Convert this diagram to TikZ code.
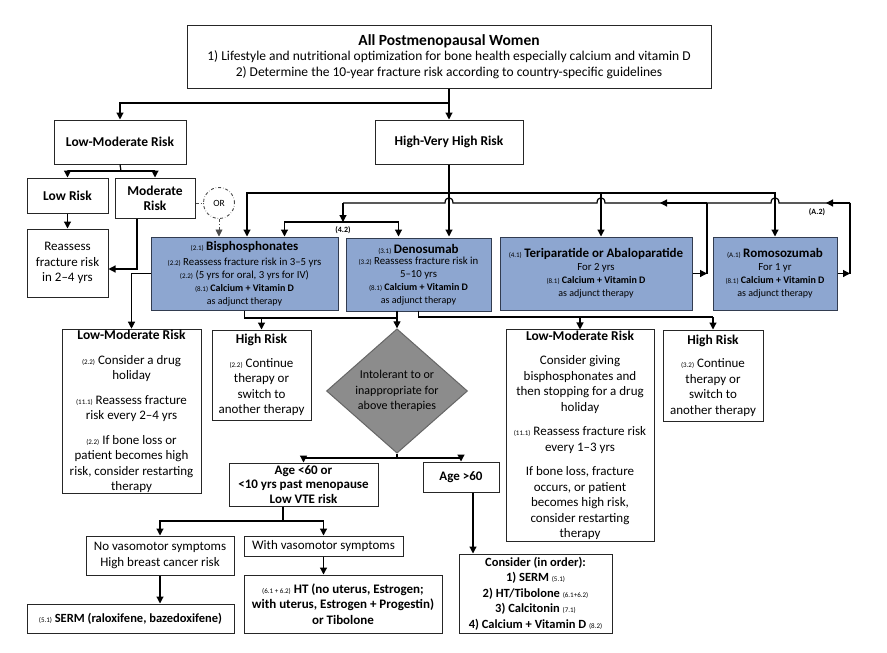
\documentclass[tikz,border=0pt]{standalone}
\usepackage{fontspec}
\setmainfont{Carlito}
\usetikzlibrary{positioning, shapes.geometric, arrows.meta}

\definecolor{drugblue}{RGB}{141,166,208}
\definecolor{drugedge}{RGB}{50,60,80}
\definecolor{diamgray}{RGB}{140,140,140}

\newcommand{\rf}[1]{{\fontsize{7}{8}\selectfont\mdseries #1}}
\newcommand{\hd}{\fontsize{13.5}{15}\selectfont\bfseries}
\newcommand{\dt}{\fontsize{13}{15}\selectfont\bfseries}
\newcommand{\sm}{\fontsize{10}{11.5}\selectfont}

\begin{document}
\begin{tikzpicture}[x=1pt, y=-1pt, font=\fontsize{13}{15.5}\selectfont,
    box/.style={rectangle, draw=black!85, line width=1pt, fill=white, align=center, inner sep=1pt},
    drug/.style={box, fill=drugblue, draw=drugedge, font=\fontsize{10.8}{13}\selectfont},
    arr/.style={-{Triangle[length=7pt,width=7pt]}, line width=1.2pt},
    ln/.style={line width=1.2pt}]
    \useasboundingbox[fill=white] (0,0) rectangle (887,653);
    % Top
    \node[box, minimum width=524pt, minimum height=63pt, font=\fontsize{13.5}{15.5}\selectfont](allpm) at (449,56.5){{\fontsize{15.5}{17}\selectfont\bfseries All Postmenopausal Women}\\1) Lifestyle and nutritional optimization for bone health especially calcium and vitamin D\\2) Determine the 10-year fracture risk according to country-specific guidelines};
    \node[box, minimum width=132pt, minimum height=44pt, font=\hd](lowmod) at (120,142){Low-Moderate Risk};
    \node[box, minimum width=148pt, minimum height=44pt, font=\hd](highvh) at (449,142){High-Very High Risk};
    \node[box, minimum width=81pt, minimum height=35pt, font=\hd](lowrisk) at (67.5,195.5){Low Risk};
    \node[box, minimum width=80pt, minimum height=40pt, font=\hd](modrisk) at (155,198){Moderate\\Risk};
    \node[box, minimum width=81pt, minimum height=68pt](reassess) at (67.5,263){Reassess\\fracture risk\\in 2--4 yrs};
    \node[circle, draw=black!70, dash dot, line width=0.9pt, minimum size=31pt, inner sep=0pt, font=\fontsize{9.5}{10}\selectfont](orc) at (219,203){OR};
    % Drugs
    \node[drug, minimum width=187pt, minimum height=73pt](bisph) at (244.5,273.5){\rf{(2.1)} {\dt Bisphosphonates}\\[2pt]\rf{(2.2)} Reassess fracture risk in 3--5 yrs\\\rf{(2.2)} (5 yrs for oral, 3 yrs for IV)\\\sm\rf{(8.1)} \textbf{Calcium + Vitamin D}\\\sm as adjunct therapy};
    \node[drug, minimum width=145pt, minimum height=73pt](deno) at (418.5,274.5){\rf{(3.1)} {\dt Denosumab}\\[-2pt]\rf{(3.2)} Reassess fracture risk in\\5--10 yrs\\\sm\rf{(8.1)} \textbf{Calcium + Vitamin D}\\\sm as adjunct therapy};
    \node[drug, minimum width=192pt, minimum height=73pt](teri) at (596,273.5){\rf{(4.1)} {\dt Teriparatide or Abaloparatide}\\For 2 yrs\\\sm\rf{(8.1)} \textbf{Calcium + Vitamin D}\\\sm as adjunct therapy};
    \node[drug, minimum width=124pt, minimum height=73pt](romo) at (775,273.5){\rf{(A.1)} {\dt Romosozumab}\\For 1 yr\\\sm\rf{(8.1)} \textbf{Calcium + Vitamin D}\\\sm as adjunct therapy};
    % Follow-up
    \node[box, minimum width=139pt, minimum height=163pt](lmone) at (131.5,411.5){{\hd Low-Moderate Risk}\\[9pt]\rf{(2.2)} Consider a drug\\holiday\\[9pt]\rf{(11.1)} Reassess fracture\\risk every 2--4 yrs\\[9pt]\rf{(2.2)} If bone loss or\\patient becomes high\\risk, consider restarting\\therapy};
    \node[box, minimum width=99pt, minimum height=90pt](hrone) at (261.5,375){{\hd High Risk}\\[8pt]\rf{(2.2)} Continue\\therapy or\\switch to\\another therapy};
    \node[diamond, draw=black!60, line width=1pt, fill=diamgray, minimum width=141pt, minimum height=107pt, inner sep=0pt, align=center, font=\fontsize{12}{15.5}\selectfont](diam) at (397,391){Intolerant to or\\inappropriate for\\above therapies};
    \node[box, minimum width=148pt, minimum height=211pt](lmtwo) at (580,435.5){{\hd Low-Moderate Risk}\\[9pt]Consider giving\\bisphosphonates and\\then stopping for a drug\\holiday\\[9pt]\rf{(11.1)} Reassess fracture risk\\every 1--3 yrs\\[9pt]If bone loss, fracture\\occurs, or patient\\becomes high risk,\\consider restarting\\therapy};
    \node[box, minimum width=100pt, minimum height=91pt](hrtwo) at (713,375.5){{\hd High Risk}\\[8pt]\rf{(3.2)} Continue\\therapy or\\switch to\\another therapy};
    % Age branches
    \node[box, minimum width=149pt, minimum height=43pt, font=\fontsize{13}{14.5}\selectfont\bfseries](ageyoung) at (303.5,484.5){Age <60 or\\<10 yrs past menopause\\Low VTE risk};
    \node[box, minimum width=76pt, minimum height=30pt, font=\fontsize{13}{15}\selectfont\bfseries](ageold) at (461,477){Age >60};
    \node[box, minimum width=148pt, minimum height=39pt](novaso) at (160,555.5){No vasomotor symptoms\\High breast cancer risk};
    \node[box, minimum width=159pt, minimum height=20pt, inner sep=0pt](withvaso) at (323.5,546){With vasomotor symptoms};
    \node[box, minimum width=207pt, minimum height=29pt, font=\fontsize{12.5}{14}\selectfont\bfseries](serm) at (130.5,618.5){\rf{(5.1)} SERM (raloxifene, bazedoxifene)};
    \node[box, minimum width=198pt, minimum height=58pt, font=\fontsize{13}{15.5}\selectfont\bfseries](hrt) at (343,604){\rf{(6.1 + 6.2)} HT (no uterus, Estrogen;\\with uterus, Estrogen + Progestin)\\or Tibolone};
    \node[box, minimum width=153pt, minimum height=79pt, font=\fontsize{12.5}{15.5}\selectfont\bfseries](consider) at (535.5,593.5){Consider (in order):\\1) SERM \rf{(5.1)}\\2) HT/Tibolone \rf{(6.1+6.2)}\\3) Calcitonin \rf{(7.1)}\\4) Calcium + Vitamin D \rf{(8.2)}};
    % Labels
    \node[font=\fontsize{8}{9}\selectfont\bfseries](lblfour) at (343,230){(4.2)};
    \node[font=\fontsize{8}{9}\selectfont\bfseries](lblromo) at (817,212){(A.2)};
    % Junctions
    \coordinate (topsplit) at (449,103);
    \coordinate (lmsplit) at (121,171);
    \coordinate (hsplit) at (449,193);
    \coordinate (fbr) at (850,203);
    \coordinate (fbt) at (707,203);
    \coordinate (fbl) at (343,203);
    \coordinate (splitfour) at (343,222);
    \coordinate (bj) at (397,318);
    \coordinate (dj) at (418.5,317);
    \coordinate (dsplit) at (397,458);
    \coordinate (asplit) at (283,521);
    % Arrows
    \draw[arr] (allpm.south) -- (highvh.north);
    \draw[arr] (topsplit) -| (lowmod.north);
    \draw[ln] (lowmod.south) -- (lmsplit);
    \draw[arr] (lmsplit) -| (lowrisk.north);
    \draw[arr] (lmsplit) -| (modrisk.north);
    \draw[arr] (lowrisk) -- (reassess);
    \draw[arr] ([xshift=-18pt]modrisk.south) |- ([yshift=-6pt]reassess.east);
    \draw[dash dot, line width=0.9pt, black!70] (modrisk.east |- orc.west) -- (orc.west);
    \draw[arr, dash dot, line width=0.9pt, black!70] (orc.south) -- (orc.south |- bisph.north);
    \draw[ln] (highvh.south) -- (hsplit);
    \draw[arr] (hsplit) -- (hsplit |- bisph.north);
    \draw[arr] (hsplit) -| ([xshift=2.5pt]bisph.north);
    \draw[arr] (hsplit) -| ([xshift=5pt]teri.north);
    \draw[arr] (hsplit) -| (romo.north);
    % Feedback
    \draw[arr] (romo.east) -- (romo.east -| fbr);
    \draw[arr] (teri.east) -- (teri.east -| fbt);
    \draw[line width=2pt] (romo.east -| fbr) -- (fbr);
    \draw[ln] (teri.east -| fbt) -- (fbt);
    \draw[arr] (fbr) -- (826,203);
    \draw[arr] (fbt) -- (660,203);
    \draw[ln] (fbr) -- (779,203) .. controls (779,196) and (771,196) .. (771,203) -- (605,203) .. controls (605,196) and (597,196) .. (597,203) -- (453,203) .. controls (453,196) and (445,196) .. (445,203) -- (fbl);
    \draw[arr] (fbl) -- (splitfour);
    \draw[arr] (splitfour) -| ([xshift=40pt]bisph.north);
    \draw[arr] (splitfour) -| ([xshift=-20pt]bisph.north -| deno.north);
    % Below drugs
    \draw[arr] (bisph.west) -| (lmone.north);
    \draw[ln] (bisph.south) |- (bj);
    \draw[arr] (hrone.north |- bj) -- (hrone.north);
    \draw[arr] (bisph.south -| diam.north) -- (diam.north);
    \draw[ln] (bisph.south -| deno.south) -- (dj) -- (dj -| hrtwo.north);
    \draw[arr] (dj -| lmtwo.north) -- (lmtwo.north);
    \draw[arr] (dj -| hrtwo.north) -- (hrtwo.north);
    % Below diamond
    \draw[ln] (diam.south) -- (dsplit);
    \draw[arr] (dsplit) -| (ageyoung.north);
    \draw[arr] (dsplit) -| (ageold.north);
    \draw[ln] (asplit |- ageyoung.south) -- (asplit);
    \draw[arr] (asplit) -| (novaso.north);
    \draw[arr] (asplit) -| (withvaso.north);
    \draw[arr] (novaso.south) -- (novaso.south |- serm.north);
    \draw[arr] (withvaso.south) -- (withvaso.south |- hrt.north);
    \draw[arr] ([xshift=12pt]ageold.south) -- ([xshift=12pt]ageold.south |- consider.north);
\end{tikzpicture}
\end{document}
